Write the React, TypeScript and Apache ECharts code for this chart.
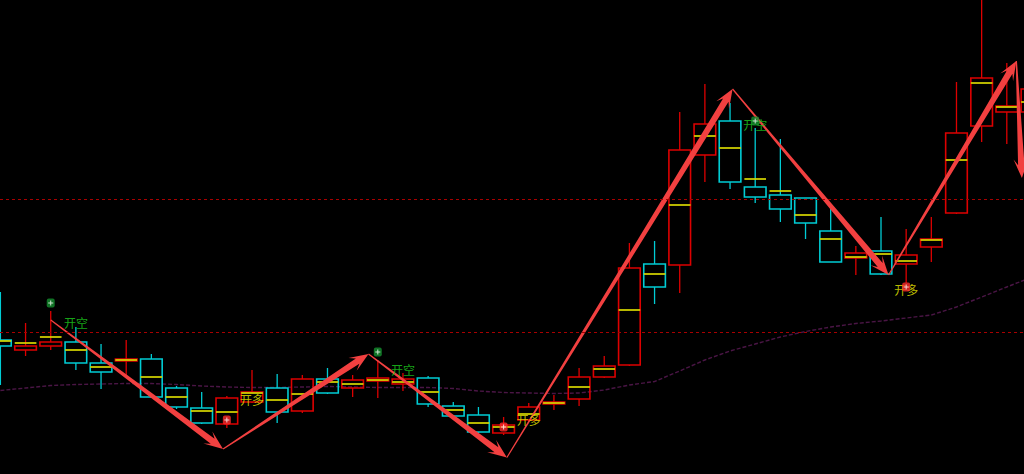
import React, { useEffect, useRef } from 'react';
import * as echarts from 'echarts';

// ---- data (price units) ----
const candleIdx = Array.from({ length: 42 }, (_, i) => i);
const opens = [3134,3124,3128,3132,3111,3113,3115,3086,3066,3050,3072,3086,3063,3095,3086,3093,3090,3096,3068,3059,3041,3054,3070,3075,3097,3109,3210,3209,3319,3353,3287,3279,3276,3243,3216,3223,3210,3227,3261,3348,3362,3362];
const closes = [3128,3128,3132,3111,3102,3115,3077,3067,3051,3076,3082,3062,3095,3081,3094,3096,3095,3070,3058,3042,3049,3067,3072,3097,3108,3206,3187,3324,3350,3292,3277,3265,3251,3212,3221,3200,3219,3235,3341,3396,3368,3385];
const lows = [3089,3118,3124,3104,3085,3097,3076,3065,3050,3046,3071,3051,3061,3080,3077,3076,3083,3067,3057,3041,3039,3053,3064,3068,3096,3108,3170,3181,3292,3285,3271,3252,3235,3212,3199,3199,3191,3212,3260,3332,3330,3324];
const highs = [3182,3151,3163,3147,3130,3134,3120,3088,3082,3078,3104,3100,3099,3106,3099,3114,3101,3098,3072,3067,3057,3071,3079,3106,3118,3231,3233,3362,3390,3371,3346,3335,3276,3266,3228,3257,3245,3257,3392,3484,3411,3404];
const marks = [3133,3131,3137,3124,3107,3114,3097,3077,3063,3062,3081,3074,3080,3092,3090,3094,3092,3082,3064,3051,3047,3060,3071,3087,3105,3164,3200,3269,3338,3326,3295,3283,3259,3235,3217,3220,3213,3234,3314,3391,3367,3372];
const maValues = [3083.5,3086,3088.5,3089.5,3090,3090.5,3090.5,3089.5,3088,3087,3086.5,3086.5,3087,3087.5,3087,3086.5,3086.5,3086.5,3085.5,3083,3081.5,3081,3080.5,3081,3084,3089,3092.5,3103,3114,3123,3130,3137,3142.5,3147,3150.5,3153,3156,3159,3167,3177,3187,3197];
const levelLines = [3275, 3142];

const zigzagIdx = [2, 8.85, 14.63, 20.13, 29.1, 35.3, 40.38, 40.6];
const zigzagPrice = [3154, 3025, 3120, 3016.5, 3385, 3199, 3413, 3296];

const shortMarkIdx = [2, 15, 30];
const shortMarkPrice = [3171, 3122, 3353];
const longMarkIdx = [9, 20, 36];
const longMarkPrice = [3054, 3047, 3187];

const shortLabelIdx = [3, 16, 30];
const shortLabelPrice = [3152, 3105, 3350];
const longLabelIdx = [10, 21, 36];
const longLabelPrice = [3074.5, 3055, 3185];

const SHORT_TEXT = '开空';
const LONG_TEXT = '开多';

// ---- styles ----
const UP = '#dd0000';
const DOWN = '#00ccd4';
const MARK = '#d8d800';
const ARROW = '#f24040';
const PLUS = 'path://M2,0H3V2H5V3H3V5H2V3H0V2H2Z';

export default function App() {
  const ref = useRef<HTMLDivElement>(null);
  useEffect(() => {
    document.body.style.margin = '0';
    document.body.style.background = '#000';
    const chart = echarts.init(ref.current!, null, { renderer: 'svg' });

    const candleData = candleIdx.map((k, i) => [k, opens[i], closes[i], lows[i], highs[i], marks[i]]);
    const segData: number[][] = [];
    for (let i = 0; i < zigzagIdx.length - 1; i++) {
      segData.push([zigzagIdx[i], zigzagPrice[i], zigzagIdx[i + 1], zigzagPrice[i + 1]]);
    }

    const xMin = -0.016;
    const xMax = xMin + 1024 / 25.16;

    chart.setOption({
      animation: false,
      backgroundColor: '#000',
      grid: { left: 0, right: 0, top: 0, bottom: 0 },
      xAxis: { type: 'value', min: xMin, max: xMax, show: false, splitLine: { show: false } },
      yAxis: { type: 'value', min: 3000, max: 3474, show: false, splitLine: { show: false } },
      series: [
        {
          type: 'line',
          name: 'MA',
          data: candleIdx.map((k, i) => [k, maValues[i]]),
          symbol: 'none',
          lineStyle: { color: '#4a1545', width: 1.4, type: [4, 2] },
          z: 1,
          markLine: {
            silent: true,
            symbol: ['none', 'none'],
            label: { show: false },
            lineStyle: { color: '#a80000', type: [3, 3], width: 1 },
            data: levelLines.map((v) => ({ yAxis: v })),
          },
        },
        {
          type: 'custom',
          name: 'K',
          data: candleData,
          encode: { x: 0, y: [1, 2, 3, 4] },
          z: 2,
          renderItem: (params: any, api: any) => {
            const k = api.value(0);
            const o = api.value(1), c = api.value(2), l = api.value(3), h = api.value(4), m = api.value(5);
            const color = c >= o ? UP : DOWN;
            const cx = api.coord([k, o])[0];
            const yo = api.coord([k, o])[1];
            const yc = api.coord([k, c])[1];
            const yl = api.coord([k, l])[1];
            const yh = api.coord([k, h])[1];
            const ym = api.coord([k, m])[1];
            const band = api.size([1, 0])[0];
            const hw = band * 0.43;
            const top = Math.min(yo, yc);
            const bot = Math.max(yo, yc);
            return {
              type: 'group',
              children: [
                { type: 'line', shape: { x1: cx, y1: yh, x2: cx, y2: top }, style: { stroke: color, lineWidth: 1.3 } },
                { type: 'line', shape: { x1: cx, y1: bot, x2: cx, y2: yl }, style: { stroke: color, lineWidth: 1.3 } },
                { type: 'rect', shape: { x: cx - hw, y: top, width: hw * 2, height: Math.max(bot - top, 1) }, style: { fill: 'rgba(0,0,0,0)', stroke: color, lineWidth: 1.6 } },
                { type: 'line', shape: { x1: cx - hw, y1: ym, x2: cx + hw, y2: ym }, style: { stroke: MARK, lineWidth: 1.7 } },
              ],
            };
          },
        },
        {
          type: 'custom',
          name: 'zigzag',
          data: segData,
          encode: { x: [0, 2], y: [1, 3] },
          z: 3,
          renderItem: (params: any, api: any) => {
            const p1 = api.coord([api.value(0), api.value(1)]);
            const p2 = api.coord([api.value(2), api.value(3)]);
            const dx = p2[0] - p1[0];
            const dy = p2[1] - p1[1];
            const L = Math.hypot(dx, dy);
            const ux = dx / L, uy = dy / L;
            const nx = -uy, ny = ux;
            const pt = (u: number, v: number) => [p1[0] + ux * u + nx * v, p1[1] + uy * u + ny * v];
            const points = [
              pt(0, -0.6), pt(L - 13, -3.2), pt(L - 19, -7.5), pt(L, 0),
              pt(L - 19, 7.5), pt(L - 13, 3.2), pt(0, 0.6),
            ];
            return { type: 'polygon', shape: { points }, style: { fill: ARROW } };
          },
        },
        {
          type: 'scatter',
          name: 'shortLabel',
          data: shortLabelIdx.map((k, i) => [k, shortLabelPrice[i]]),
          symbolSize: 1,
          itemStyle: { color: 'rgba(0,0,0,0)' },
          z: 4,
          label: { show: true, position: 'inside', formatter: SHORT_TEXT, color: '#1ed01e', fontSize: 12, fontFamily: 'Noto Sans CJK SC' },
        },
        {
          type: 'scatter',
          name: 'longLabel',
          data: longLabelIdx.map((k, i) => [k, longLabelPrice[i]]),
          symbolSize: 1,
          itemStyle: { color: 'rgba(0,0,0,0)' },
          z: 4,
          label: { show: true, position: 'inside', formatter: LONG_TEXT, color: '#ecec00', fontSize: 12, fontFamily: 'Noto Sans CJK SC' },
        },
        {
          type: 'scatter',
          name: 'shortMark',
          data: shortMarkIdx.map((k, i) => [k, shortMarkPrice[i]]),
          symbol: 'roundRect',
          symbolSize: [8, 9],
          itemStyle: { color: '#14902e' },
          z: 5,
        },
        {
          type: 'scatter',
          name: 'longMark',
          data: longMarkIdx.map((k, i) => [k, longMarkPrice[i]]),
          symbol: 'roundRect',
          symbolSize: [8, 9],
          itemStyle: { color: '#ff2a2a' },
          z: 5,
        },
        {
          type: 'scatter',
          name: 'plus',
          data: [...shortMarkIdx.map((k, i) => [k, shortMarkPrice[i]]), ...longMarkIdx.map((k, i) => [k, longMarkPrice[i]])],
          symbol: PLUS,
          symbolSize: 5,
          itemStyle: { color: '#ffffff' },
          z: 6,
        },
      ],
    });
    return () => chart.dispose();
  }, []);
  return <div ref={ref} style={{ position: 'fixed', left: 0, top: 0, width: 1024, height: 474, background: '#000' }} />;
}
